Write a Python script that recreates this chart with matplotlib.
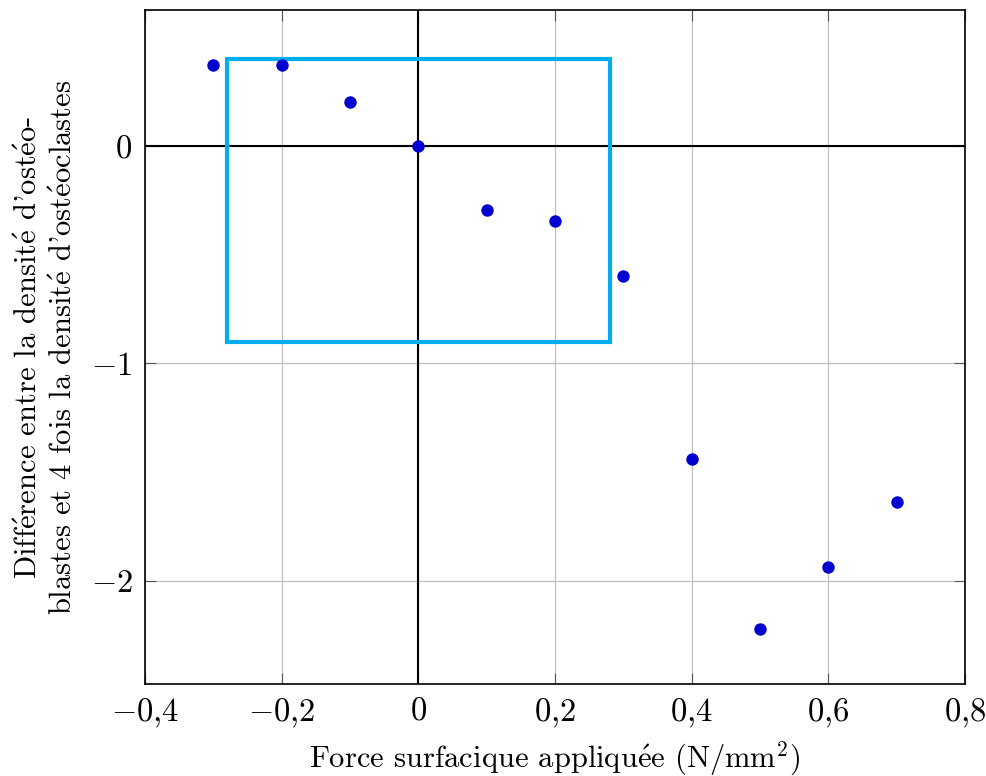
import matplotlib
matplotlib.use("Agg")
import matplotlib.pyplot as plt
import matplotlib.patches as mpatches

plt.rcParams['font.family'] = ['cmr10', 'DejaVu Serif']
plt.rcParams['mathtext.fontset'] = 'cm'
plt.rcParams['axes.unicode_minus'] = False

force = [-0.3, -0.2, -0.1, 0.0, 0.1, 0.2, 0.3, 0.4, 0.5, 0.6, 0.7]
difference = [0.37, 0.37, 0.20, 0.0, -0.295, -0.345, -0.60, -1.44, -2.22, -1.935, -1.635]
x_ticks = [-0.4, -0.2, 0.0, 0.2, 0.4, 0.6, 0.8]
x_tick_labels = [r"$-0{,}4$", r"$-0{,}2$", r"$0$", r"$0{,}2$", r"$0{,}4$", r"$0{,}6$", r"$0{,}8$"]
y_ticks = [-2, -1, 0]
y_tick_labels = [r"$-2$", r"$-1$", r"$0$"]
rect_x = [-0.28, 0.28]
rect_y = [-0.9, 0.4]

E = r"$\acute{\mathrm{e}}$"
xlabel = "Force surfacique appliqu" + E + "e (N/mm$^2$)"
ylabel = ("Diff" + E + "rence entre la densit" + E + " d'ost" + E + "o-\n"
          "blastes et 4 fois la densit" + E + " d'ost" + E + "oclastes")

fig = plt.figure(figsize=(9.87, 7.76), dpi=100)
ax = fig.add_axes([145/987, 1-684/776, 820/987, 674/776])
ax.set_xlim(-0.4, 0.8)
ax.set_ylim(-2.474, 0.625)

ax.grid(True, color='#c0c0c0', linewidth=0.9)
ax.set_axisbelow(True)
ax.axhline(0, color='black', linewidth=1.5, zorder=2)
ax.axvline(0, color='black', linewidth=1.5, zorder=2)

ax.add_patch(mpatches.Rectangle((rect_x[0], rect_y[0]), rect_x[1]-rect_x[0], rect_y[1]-rect_y[0],
                                fill=False, edgecolor='#00AEEF', linewidth=3, zorder=3))
ax.scatter(force, difference, s=80, color='#0000D0', zorder=4, linewidths=0)

ax.set_xticks(x_ticks)
ax.set_xticklabels(x_tick_labels, fontsize=23.5)
ax.set_yticks(y_ticks)
ax.set_yticklabels(y_tick_labels, fontsize=23.5)
ax.tick_params(direction='in', length=8, color='#555555', top=True, right=True, pad=9)
for s in ax.spines.values():
    s.set_linewidth(1.2)

fig.text((145 + 965) / 2 / 987, 1 - 767 / 776, xlabel, fontsize=22, ha='center', va='baseline')
ax.set_ylabel(ylabel, fontsize=22, labelpad=9, linespacing=1.35)

fig.savefig("out.png", dpi=100)
